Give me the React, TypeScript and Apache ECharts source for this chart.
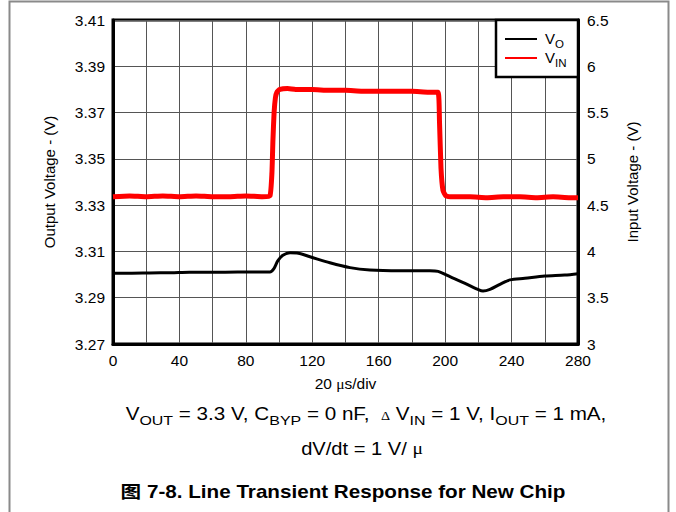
import React, { useEffect, useRef } from "react";
import * as echarts from "echarts";

// ---- data ----
const xTickValues = [0, 40, 80, 120, 160, 200, 240, 280];

// Output voltage V_O (left axis, V) vs time (µs)
const voTime = [0, 10, 22, 35, 46, 60, 75, 88, 94.5, 97, 99.3, 102.3, 106.6, 110.8, 118.6, 130.6, 142.7, 154.7, 172.8, 190.8, 195.7, 202.9, 212, 219.7, 222.8, 227, 233, 239, 248, 260, 272, 280];
const voValues = [3.3006, 3.3006, 3.3007, 3.3008, 3.301, 3.301, 3.3011, 3.3011, 3.3011, 3.3027, 3.306, 3.3083, 3.3094, 3.3093, 3.3077, 3.3051, 3.303, 3.302, 3.3017, 3.3017, 3.3014, 3.2991, 3.2962, 3.2936, 3.2929, 3.2936, 3.2958, 3.2977, 3.2984, 3.2994, 3.2998, 3.3004];

// Input voltage V_IN (right axis, V) vs time (µs)
const vinTime = [0, 10, 20, 30, 40, 50, 60, 70, 80, 90, 94.5, 95.7, 96.3, 97, 97.8, 98.7, 100.5, 105, 110, 120, 130, 140, 150, 160, 170, 180, 190, 195.7, 196.6, 197.5, 198.7, 200.5, 205, 215, 225, 235, 245, 255, 265, 275, 280];
const vinValues = [4.59, 4.6, 4.59, 4.6, 4.59, 4.6, 4.59, 4.59, 4.6, 4.59, 4.6, 4.85, 5.2, 5.5, 5.66, 5.72, 5.75, 5.76, 5.75, 5.75, 5.74, 5.74, 5.73, 5.73, 5.73, 5.73, 5.72, 5.72, 5.4, 4.9, 4.66, 4.6, 4.59, 4.59, 4.58, 4.59, 4.59, 4.58, 4.59, 4.58, 4.58];

const seriesNames = ["VO", "VIN"];

const SANS = '"Liberation Sans", Arial, "Noto Sans CJK SC", sans-serif';
const SERIF = '"Liberation Serif", "DejaVu Serif", serif';

export default function App() {
  const ref = useRef<HTMLDivElement>(null);

  useEffect(() => {
    if (!ref.current) return;
    const chart = echarts.init(ref.current, undefined, { renderer: "svg" });

    const voData = voTime.map((t, i) => [t, voValues[i]]);
    const vinData = vinTime.map((t, i) => [t, vinValues[i]]);

    const subRich = {
      n: { fontSize: 17.5, lineHeight: 20, verticalAlign: "top", fontFamily: SANS, fill: "#000" },
      s: { fontSize: 13.5, lineHeight: 22, verticalAlign: "bottom", fontFamily: SANS, fill: "#000" },
      d: { fontSize: 12, lineHeight: 20, verticalAlign: "top", fontFamily: SERIF, fill: "#000", padding: [4, 0, 0, 0] },
      m: { fontSize: 17, lineHeight: 20, verticalAlign: "top", fontFamily: SERIF, fill: "#000" },
    };
    const legRich = {
      n: { fontSize: 15, lineHeight: 17, verticalAlign: "top", fontFamily: SANS, fill: "#000" },
      s: { fontSize: 11.5, lineHeight: 19, verticalAlign: "bottom", fontFamily: SANS, fill: "#000" },
    };

    chart.setOption({
      animation: false,
      backgroundColor: "#fff",
      grid: {
        left: 113,
        right: 98,
        top: 20,
        bottom: 168,
        show: true,
        borderColor: "#000",
        borderWidth: 3,
        backgroundColor: "transparent",
      },
      xAxis: {
        type: "value",
        min: 0,
        max: 280,
        interval: 20,
        name: "20 {m|μ}s/div",
        nameLocation: "middle",
        nameGap: 31,
        nameTextStyle: {
          fontSize: 15.5,
          fontFamily: SANS,
          color: "#000",
          rich: { m: { fontSize: 15.5, fontFamily: SERIF, color: "#000" } },
        },
        axisLine: { show: true, lineStyle: { color: "#000", width: 3 } },
        axisTick: { show: false },
        axisLabel: {
          margin: 9,
          fontSize: 15.5,
          fontFamily: SANS,
          color: "#000",
          formatter: (v: number) => (xTickValues.includes(v) ? String(v) : ""),
        },
        splitLine: { show: true, lineStyle: { color: "#555", width: 1 } },
      },
      yAxis: [
        {
          type: "value",
          min: 3.27,
          max: 3.41,
          interval: 0.01,
          position: "left",
          name: "Output Voltage - (V)",
          nameLocation: "middle",
          nameGap: 56,
          nameTextStyle: { fontSize: 15, fontFamily: SANS, color: "#000" },
          axisLine: { show: true, lineStyle: { color: "#000", width: 3 } },
          axisTick: { show: false },
          axisLabel: {
            margin: 8,
            fontSize: 15.5,
            fontFamily: SANS,
            color: "#000",
            formatter: (v: number) => {
              const k = Math.round(v * 100);
              return k % 2 === 1 ? (k / 100).toFixed(2) : "";
            },
          },
          splitLine: { show: false },
        },
        {
          type: "value",
          min: 3,
          max: 6.5,
          interval: 0.5,
          position: "right",
          name: "Input Voltage - (V)",
          nameLocation: "middle",
          nameGap: 47,
          nameRotate: 90,
          nameTextStyle: { fontSize: 15, fontFamily: SANS, color: "#000" },
          axisLine: { show: true, lineStyle: { color: "#000", width: 3 } },
          axisTick: { show: false },
          axisLabel: {
            margin: 9,
            fontSize: 15.5,
            fontFamily: SANS,
            color: "#000",
          },
          splitLine: { show: true, lineStyle: { color: "#555", width: 1 } },
        },
      ],
      series: [
        {
          name: seriesNames[1],
          type: "line",
          yAxisIndex: 1,
          data: vinData,
          showSymbol: false,
          smooth: 0.15,
          lineStyle: { color: "#ff0000", width: 5 },
          z: 3,
        },
        {
          name: seriesNames[0],
          type: "line",
          yAxisIndex: 0,
          data: voData,
          showSymbol: false,
          smooth: 0.3,
          lineStyle: { color: "#000", width: 3 },
          z: 4,
        },
      ],
      graphic: [
        {
          type: "rect",
          z: 100,
          shape: { x: 9.5, y: 1.5, width: 659, height: 540 },
          style: { fill: "none", stroke: "#8a8a8a", lineWidth: 2 },
          silent: true,
        },
        // legend
        {
          type: "rect",
          z: 100,
          shape: { x: 496, y: 20, width: 82, height: 57 },
          style: { fill: "#fff", stroke: "#000", lineWidth: 2.5 },
        },
        {
          type: "line",
          z: 101,
          shape: { x1: 505, y1: 39, x2: 537, y2: 39 },
          style: { stroke: "#000", lineWidth: 2 },
        },
        {
          type: "line",
          z: 101,
          shape: { x1: 505, y1: 58, x2: 537, y2: 58 },
          style: { stroke: "#ff0000", lineWidth: 2 },
        },
        {
          type: "text",
          z: 101,
          x: 545,
          y: 40,
          style: { text: "{n|V}{s|O}", align: "left", verticalAlign: "middle", rich: legRich, fill: "#000" },
        },
        {
          type: "text",
          z: 101,
          x: 545,
          y: 59,
          style: { text: "{n|V}{s|IN}", align: "left", verticalAlign: "middle", rich: legRich, fill: "#000" },
        },
        // caption
        {
          type: "text",
          z: 101,
          x: 366,
          y: 416.5,
          scaleX: 1.18,
          style: {
            text: "{n|V}{s|OUT}{n| = 3.3 V, C}{s|BYP}{n| = 0 nF,  }{d|Δ}{n| V}{s|IN}{n| = 1 V, I}{s|OUT}{n| = 1 mA,}",
            align: "center",
            verticalAlign: "middle",
            rich: subRich,
            fill: "#000",
          },
        },
        {
          type: "text",
          z: 101,
          x: 362,
          y: 450,
          scaleX: 1.15,
          style: {
            text: "{n|dV/dt = 1 V/ }{m|μ}",
            align: "center",
            verticalAlign: "middle",
            rich: subRich,
            fill: "#000",
          },
        },
        {
          type: "text",
          z: 101,
          x: 343,
          y: 492,
          scaleX: 1.18,
          style: {
            text: "图 7-8. Line Transient Response for New Chip",
            align: "center",
            verticalAlign: "middle",
            fontSize: 17.5,
            fontWeight: "bold",
            fontFamily: SANS,
            fill: "#000",
          },
        },
      ],
    });

    return () => chart.dispose();
  }, []);

  return (
    <div
      ref={ref}
      style={{ position: "fixed", left: 0, top: 0, width: 676, height: 512, background: "#fff" }}
    />
  );
}
